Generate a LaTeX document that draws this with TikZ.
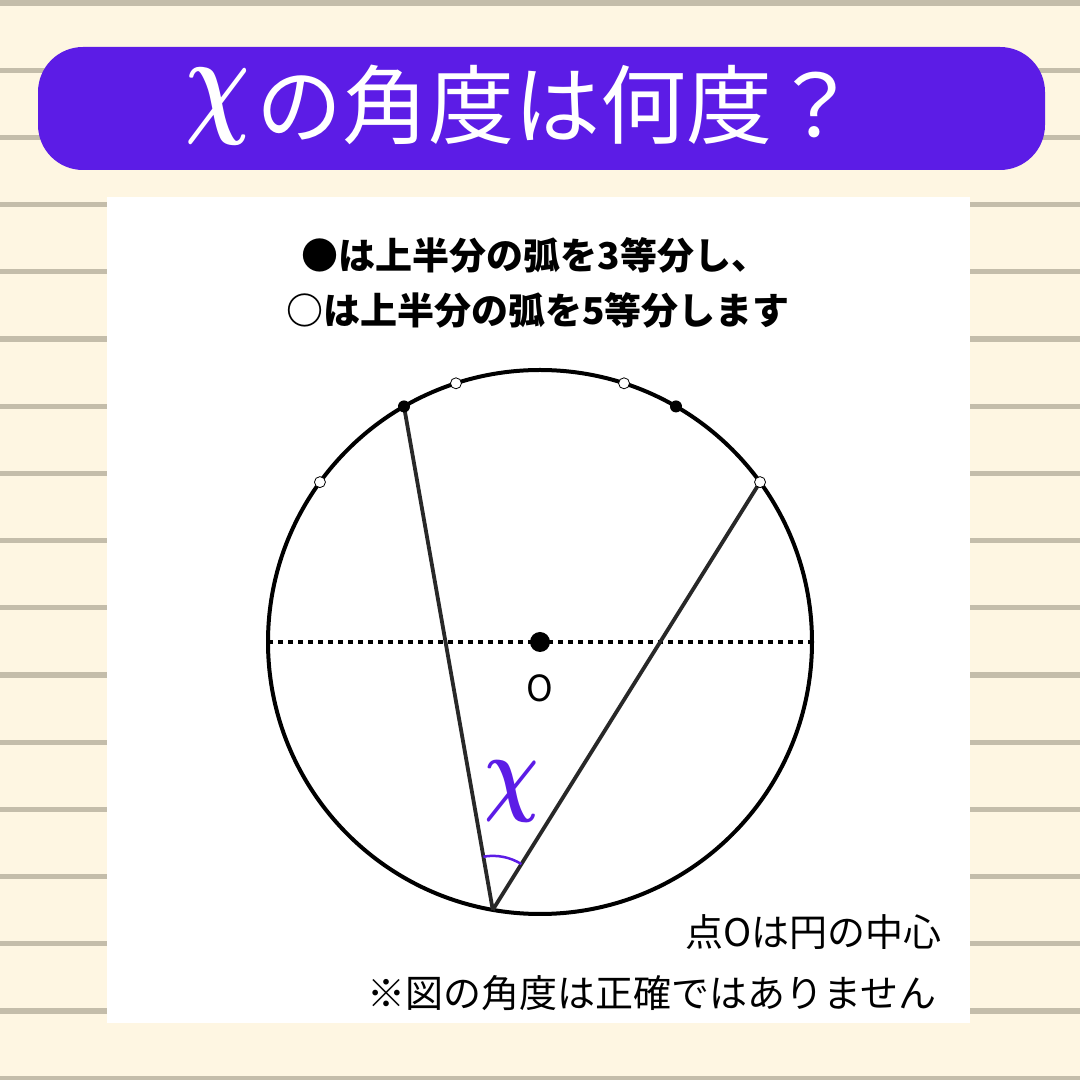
\documentclass[tikz,border=0pt]{standalone}
\usepackage{graphicx}
\usepackage{bm}
\usepackage{fontspec}
\newfontfamily\jp{Noto Sans CJK JP}
\usetikzlibrary{angles}
\definecolor{bg}{RGB}{254,246,226}
\definecolor{rulec}{RGB}{196,189,170}
\definecolor{purp}{RGB}{92,28,230}
\definecolor{chordc}{RGB}{40,40,40}
\begin{document}
\begin{tikzpicture}[x=1pt,y=1pt,
  txt/.style={inner sep=0pt, text=black},
  filleddot/.style={circle, fill=black, inner sep=0pt, minimum size=12pt},
  opendot/.style={circle, draw=black, fill=white, line width=0.8pt, inner sep=0pt, minimum size=11pt},
  chord/.style={draw=chordc, line width=3.8pt},
  ring/.style={draw=black, line width=4pt}]
\useasboundingbox (0,0) rectangle (1080,1080);
\fill[bg] (0,0) rectangle (1080,1080);
\foreach \k in {0,...,16}
  \fill[rulec] (0,{1080-3-67.2*\k-2.6}) rectangle (1080,{1080-3-67.2*\k+2.6});
% banner
\fill[purp, rounded corners=45pt] (38,910) rectangle (1045,1033);
\node[inner sep=0pt, text=white, font=\jp\fontsize{86}{86}\selectfont] (title) at (522,975)
  {\raisebox{16pt}{\scalebox{9}[12]{\normalsize$\bm{\chi}$}}\hspace{6pt}の角度は何度？};
% panel
\fill[white] (107,57) rectangle (970,883);
\node[txt, font=\jp\bfseries\fontsize{37}{37}\selectfont] (l1) at (535,825) {●は上半分の弧を3等分し、};
\node[txt, font=\jp\bfseries\fontsize{37}{37}\selectfont] (l2) at (538,770) {○は上半分の弧を5等分します};
% circle
\coordinate (O) at (540,438);
\path (O) ++(0:272) coordinate (E);
\path (O) ++(180:272) coordinate (W);
\path (O) ++(60:272) coordinate (A60);
\path (O) ++(120:272) coordinate (A120);
\path (O) ++(36:272) coordinate (A36);
\path (O) ++(72:272) coordinate (A72);
\path (O) ++(108:272) coordinate (A108);
\path (O) ++(144:272) coordinate (A144);
\path (O) ++(-100:272) coordinate (P);
\draw[ring] (O) circle (272);
\draw[line width=4pt, dash pattern=on 4.5pt off 5.5pt] (W) -- (E);
\draw[chord] (P) -- (A120);
\draw[chord] (P) -- (A36);
\pic[draw=purp, line width=2.5pt, angle radius=54pt] {angle = A36--P--A120};
\node[filleddot] (d60) at (A60) {};
\node[filleddot] (d120) at (A120) {};
\node[opendot] (o36) at (A36) {};
\node[opendot] (o72) at (A72) {};
\node[opendot] (o108) at (A108) {};
\node[opendot] (o144) at (A144) {};
\node[circle, fill=black, inner sep=0pt, minimum size=20pt] (cdot) at (O) {};
\node[txt, font=\jp\fontsize{36}{36}\selectfont] (olab) at (540,392) {O};
\node[inner sep=0pt, text=purp, xscale=7.6, yscale=9.6] (xlab) at (512,288) {$\bm{\chi}$};
% notes
\node[txt, anchor=east, font=\jp\fontsize{38}{38}\selectfont] (n1) at (942,148) {点Oは円の中心};
\node[txt, anchor=east, font=\jp\fontsize{38}{38}\selectfont] (n2) at (937,87) {※図の角度は正確ではありません};
\end{tikzpicture}
\end{document}
